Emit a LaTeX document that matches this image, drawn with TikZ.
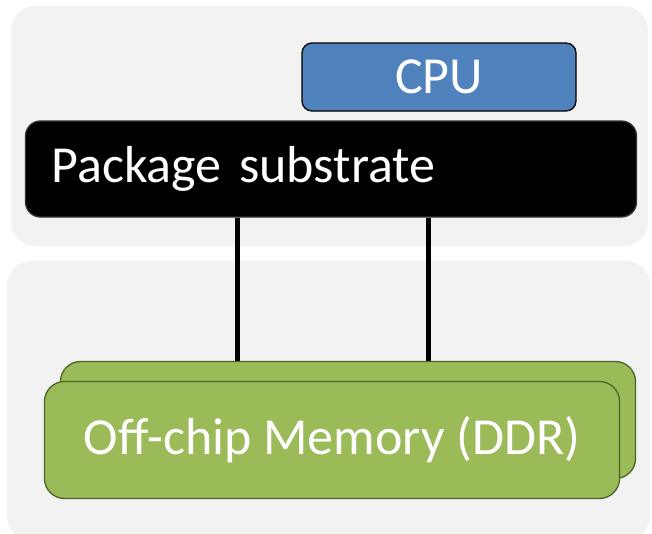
\documentclass[tikz,border=0pt]{standalone}
\usepackage{fontspec}
\setmainfont{Carlito}
\usepackage{tikz}
\usetikzlibrary{positioning,calc}
\usepackage{xcolor}
\definecolor{panelgray}{HTML}{F2F2F2}
\definecolor{cpublue}{HTML}{4F81BD}
\definecolor{memgreen}{HTML}{9BBB59}
\definecolor{memedge}{HTML}{4F6228}

\begin{document}
\begin{tikzpicture}[x=1pt,y=-1pt,
  panel/.style={fill=panelgray,rounded corners=24pt},
  chip/.style={draw,line width=1.3pt,rounded corners=#1,text=white,font=\fontsize{52}{56}\selectfont},
  memchip/.style={chip=20pt,draw=memedge,fill=memgreen,minimum width=575pt,minimum height=117pt},
  wire/.style={line width=5pt}]
  \useasboundingbox (0,0) rectangle (652,533);
  \fill[panel] (11,6) rectangle (648,246);
  \fill[panel] (7,261) rectangle (650,540);
  % top: cpu on the package
  \node[chip=10pt,fill=cpublue,minimum width=274pt,minimum height=68pt] (cpu) at (439,77) {CPU};
  \node[chip=15pt,draw=black!80,fill=black,text width=559pt,inner xsep=26pt,minimum height=96pt,align=left] (sub) at (331,169) {Package substrate};
  % bottom: stacked memory
  \node[memchip] (back) at (348,420) {};
  \node[memchip] (mem) at (332,440) {Off-chip Memory (DDR)};
  \coordinate (l1) at (237,0); \coordinate (l2) at (428,0);
  \draw[wire] (sub.south -| l1) -- (back.north -| l1);
  \draw[wire] (sub.south -| l2) -- (back.north -| l2);
\end{tikzpicture}
\end{document}
